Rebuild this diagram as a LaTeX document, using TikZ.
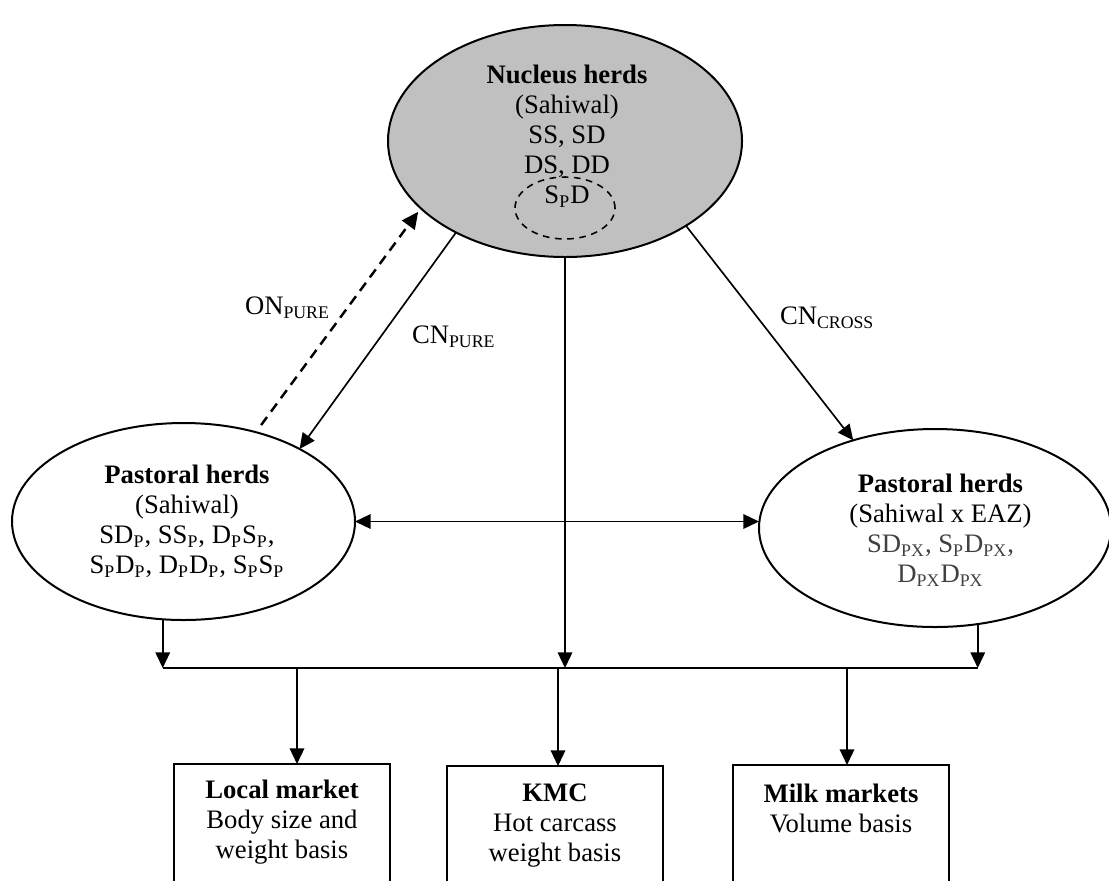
\documentclass[tikz,border=0pt]{standalone}
\usepackage{fontspec}
\setmainfont{Liberation Serif}
\usetikzlibrary{shapes.geometric,arrows.meta}
\definecolor{nucfill}{RGB}{192,192,192}
\definecolor{txtgray}{RGB}{64,64,64}
\begin{document}
\begin{tikzpicture}[x=0.45pt,y=-0.45pt,
  every node/.style={font=\fontsize{12pt}{13.5pt}\selectfont, inner sep=0pt, outer sep=0pt},
  herd/.style={draw, ellipse, line width=0.9pt},
  mkt/.style={draw, rectangle, line width=0.9pt, minimum width=97.2pt, minimum height=70pt, anchor=north},
  txt/.style={anchor=north, align=center},
  lab/.style={anchor=base west},
  arr/.style={-{Triangle[length=7pt,width=6.5pt]}, line width=0.75pt},
  dbl/.style={{Triangle[length=7pt,width=6.5pt]}-{Triangle[length=7pt,width=6.5pt]}, line width=0.75pt},
  dasharr/.style={-{Triangle[length=7.5pt,width=7pt]}, line width=1.1pt, dash pattern=on 4.5pt off 3pt},
  bus/.style={line width=0.9pt}]
\clip (0,0) rectangle (1109,880);
\fill[white] (0,0) rectangle (1109,880);

% nucleus
\node[herd, fill=nucfill, minimum width=159.3pt, minimum height=104.4pt] (nuc) at (565,141) {};
\node[txt] (nuctext) at (567,64.5) {\textbf{Nucleus herds}\\(Sahiwal)\\SS, SD\\DS, DD\\S\textsubscript{P}D};
\node[draw, ellipse, line width=0.7pt, dash pattern=on 3pt off 2.5pt, minimum width=45pt, minimum height=27.9pt] (spd) at (565,208) {};

% pastoral herds
\node[herd, minimum width=154.35pt, minimum height=88.65pt] (pastL) at (183.5,521.5) {};
\node[txt] (pastLtext) at (187,464.5) {\textbf{Pastoral herds}\\(Sahiwal)\\SD\textsubscript{P}, SS\textsubscript{P}, D\textsubscript{P}S\textsubscript{P},\\S\textsubscript{P}D\textsubscript{P}, D\textsubscript{P}D\textsubscript{P}, S\textsubscript{P}S\textsubscript{P}};
\node[herd, minimum width=158.4pt, minimum height=89.1pt] (pastR) at (935,528) {};
\node[txt] (pastRtext) at (940.5,473.5) {\textbf{Pastoral herds}\\(Sahiwal x EAZ)\\\textcolor{txtgray}{SD\textsubscript{PX}, S\textsubscript{P}D\textsubscript{PX},}\\\textcolor{txtgray}{D\textsubscript{PX}D\textsubscript{PX}}};

% markets
\node[mkt] (loc) at (282,764) {};
\node[txt] (loctext) at (282,779.5) {\textbf{Local market}\\Body size and\\weight basis};
\node[mkt] (kmc) at (555,766) {};
\node[txt] (kmctext) at (555,783.5) {\textbf{KMC}\\Hot carcass\\weight basis};
\node[mkt] (milk) at (841,765) {};
\node[txt] (milktext) at (841,783.5) {\textbf{Milk markets}\\Volume basis};

% labels
\node[lab] (onlab) at (245,314) {ON\textsubscript{PURE}};
\node[lab] (cnplab) at (412,343) {CN\textsubscript{PURE}};
\node[lab] (cnclab) at (780,324) {CN\textsubscript{CROSS}};

% coordinates on the bus
\coordinate (bl) at (162,668);
\coordinate (br) at (979,668);
\coordinate (d1) at (297,668);
\coordinate (d2) at (558,668);
\coordinate (d3) at (847,668);

% connectors
\draw[arr] (nuc.220.7) -- (pastL.32);
\draw[arr] (nuc.325.5) -- (pastR.133);
\draw[dasharr, shorten <=4pt, shorten >=2pt] (pastL.51) -- (nuc.205);
\draw[dbl] (pastL.east) -- (pastL.east -| pastR.west);
\draw[arr] (nuc.south) -- (nuc.south |- bl);
\draw[arr] (pastL.258) -- (pastL.258 |- bl);
\draw[arr] (pastR.294.6) -- (pastR.294.6 |- br);
\draw[bus] (pastL.258 |- bl) -- (pastR.294.6 |- br);
\draw[arr] (d1) -- (d1 |- loc.north);
\draw[arr] (d2) -- (d2 |- kmc.north);
\draw[arr] (d3) -- (d3 |- milk.north);
\end{tikzpicture}
\end{document}
